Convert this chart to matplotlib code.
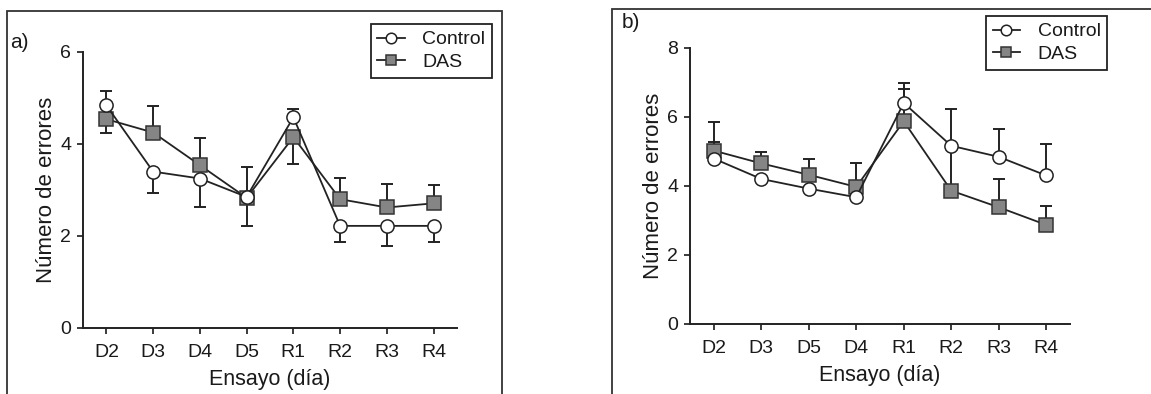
import numpy as np
import matplotlib
matplotlib.use('Agg')
import matplotlib.pyplot as plt
from matplotlib.patches import Rectangle

# panel a)
days_a = ['D2', 'D3', 'D4', 'D5', 'R1', 'R2', 'R3', 'R4']
control_a = [4.84, 3.40, 3.25, 2.85, 4.58, 2.22, 2.22, 2.22]
control_a_up = [0.32, 0, 0, 0, 0.18, 0, 0, 0]
control_a_dn = [0, 0.47, 0.61, 0.63, 0, 0.36, 0.43, 0.34]
das_a = [4.54, 4.25, 3.54, 2.83, 4.15, 2.80, 2.62, 2.71]
das_a_up = [0, 0.58, 0.59, 0.66, 0, 0.47, 0.52, 0.39]
das_a_dn = [0.29, 0, 0, 0, 0.58, 0, 0, 0]

# panel b)
days_b = ['D2', 'D3', 'D5', 'D4', 'R1', 'R2', 'R3', 'R4']
control_b = [4.79, 4.20, 3.92, 3.67, 6.40, 5.16, 4.84, 4.30]
control_b_up = [0.47, 0, 0, 0, 0.57, 0, 0.81, 0.91]
das_b = [5.02, 4.65, 4.32, 3.97, 5.87, 3.86, 3.38, 2.87]
das_b_up = [0.84, 0.33, 0.46, 0.68, 0.94, 2.37, 0.83, 0.55]

plt.rcParams['font.family'] = ['Liberation Sans', 'DejaVu Sans']
plt.rcParams['text.color'] = '#1a1a1a'

fig = plt.figure(figsize=(11.51, 3.94), dpi=100)

W, H = 1151.0, 394.0


def style_axes(ax, ymax):
    ax.set_xlim(-0.5, 7.5)
    ax.set_ylim(0, ymax)
    ax.spines['top'].set_visible(False)
    ax.spines['right'].set_visible(False)
    for s in ['left', 'bottom']:
        ax.spines[s].set_linewidth(1.4)
        ax.spines[s].set_color('#222222')
    ax.set_yticks(np.arange(0, ymax + 1, 2))
    ax.tick_params(direction='out', length=4.5, width=1.2, labelsize=14, colors='#1a1a1a', pad=4)
    ax.tick_params(axis='x', pad=7)
    ax.set_xlabel('Ensayo (día)', fontsize=15.5, labelpad=6, color='#1a1a1a')
    ax.set_ylabel('Número de errores', fontsize=16, labelpad=2, color='#1a1a1a')


def draw(ax, days, ctrl, ctrl_err, das, das_err):
    x = np.arange(len(days))
    ax.errorbar(x, ctrl, yerr=ctrl_err, fmt='none', ecolor='#222222', elinewidth=1.4, capsize=4, capthick=1.4, zorder=2)
    ax.errorbar(x, das, yerr=das_err, fmt='none', ecolor='#222222', elinewidth=1.4, capsize=4, capthick=1.4, zorder=2)
    ax.plot(x, ctrl, '-o', color='#222222', lw=1.3, ms=9.5, mfc='white', mec='#222222', mew=1.1, label='Control', zorder=4)
    ax.plot(x, das, '-s', color='#222222', lw=1.3, ms=9.5, mfc='#858585', mec='#333333', mew=1.1, label='DAS', zorder=3)
    ax.set_xticks(x)
    ax.set_xticklabels(days)


def add_legend(ax, loc, anchor):
    h, l = ax.get_legend_handles_labels()
    leg = ax.legend(h, l, loc=loc, bbox_to_anchor=anchor, bbox_transform=fig.transFigure,
                    fontsize=14, frameon=True, fancybox=False, framealpha=1, edgecolor='#222222',
                    markerscale=0.8, handlelength=1.4, handletextpad=0.9, borderpad=0.35,
                    labelspacing=0.25, borderaxespad=0)
    leg.get_frame().set_linewidth(1.3)
    return leg


# ---- a)
ax1 = fig.add_axes([83 / W, 1 - 328 / H, 374 / W, 276 / H])
draw(ax1, days_a, control_a, [control_a_dn, control_a_up], das_a, [das_a_dn, das_a_up])
style_axes(ax1, 6)
add_legend(ax1, 'upper right', (492 / W, 1 - 24 / H))

# ---- b)
ax2 = fig.add_axes([690 / W, 1 - 324 / H, 380 / W, 276.3 / H])
draw(ax2, days_b, control_b, [np.zeros(8), control_b_up], das_b, [np.zeros(8), das_b_up])
style_axes(ax2, 8)
add_legend(ax2, 'upper left', (986 / W, 1 - 16 / H))

# outer panel boxes
fig.patches.append(Rectangle((7 / W, -0.05), 495 / W, 1.05 - 11 / H, transform=fig.transFigure,
                             fill=False, edgecolor='#333333', lw=1.3))
fig.patches.append(Rectangle((612 / W, -0.05), 0.6, 1.05 - 9 / H, transform=fig.transFigure,
                             fill=False, edgecolor='#333333', lw=1.3))

fig.text(10 / W, 1 - 42 / H, 'a)', fontsize=15, va='center', ha='left')
fig.text(622 / W, 1 - 22 / H, 'b)', fontsize=15, va='center', ha='left')

plt.savefig('out.png', dpi=100)
plt.close()
